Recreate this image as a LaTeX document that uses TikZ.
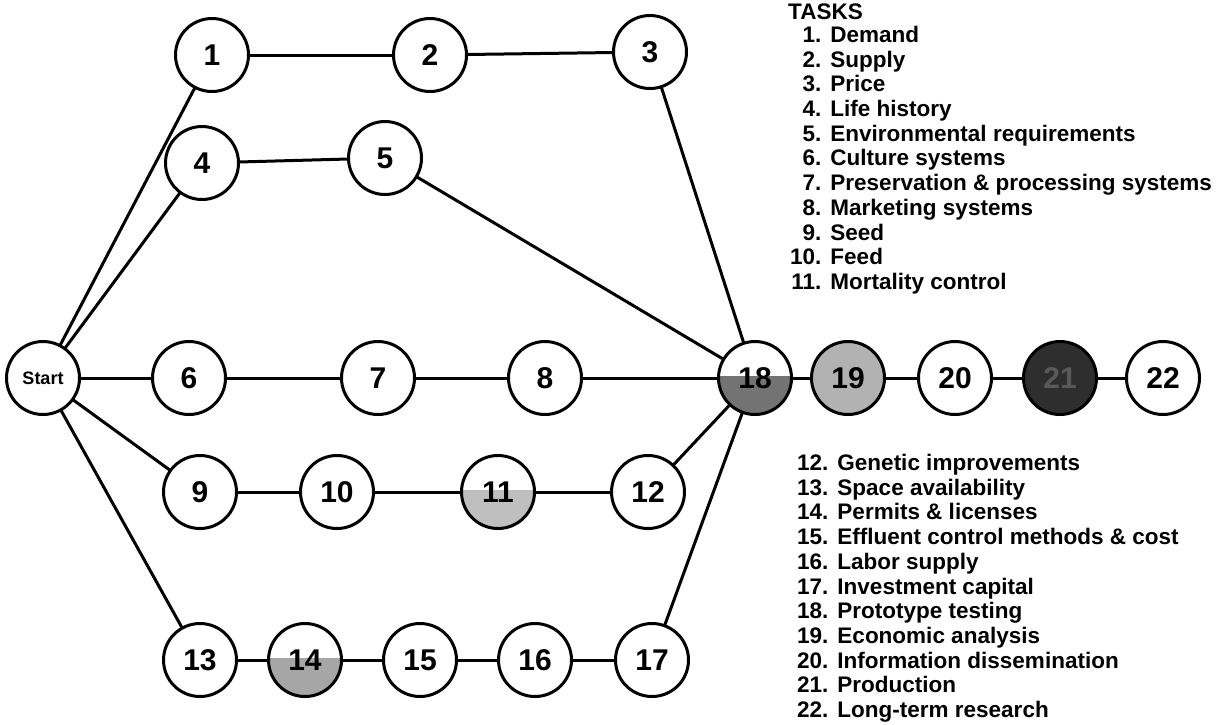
\documentclass[tikz,border=0pt]{standalone}
\usepackage{fontspec}
\setmainfont{Liberation Sans}
\usetikzlibrary{calc}
\begin{document}
\begin{tikzpicture}[x=1pt,y=-1pt,
  task/.style={circle, draw, line width=3pt, minimum size=73pt, inner sep=0pt, outer sep=0pt,
    font=\fontsize{30}{30}\selectfont\bfseries, fill=white},
  halfshade/.style={path picture={\fill[#1] ([yshift=2pt]path picture bounding box.west) rectangle (path picture bounding box.south east);}},
  link/.style={line width=3pt},
  listfont/.style={font=\fontsize{22.5}{24.7}\selectfont\bfseries}
]
\useasboundingbox (0,0) rectangle (1218,724);

% nodes
\node[task, font=\fontsize{18}{18}\selectfont\bfseries] (start) at (43,378) {Start};
\node[task] (n1) at (212,55) {1};
\node[task] (n2) at (430,55) {2};
\node[task] (n3) at (650,52) {3};
\node[task] (n4) at (202,163) {4};
\node[task] (n5) at (385,158) {5};
\node[task] (n6) at (189,378) {6};
\node[task] (n7) at (378,378) {7};
\node[task] (n8) at (545,378) {8};
\node[task, halfshade=black!55] (n18) at (755,378) {18};
\node[task, fill=black!30] (n19) at (848,378) {19};
\node[task] (n20) at (955,378) {20};
\node[task, fill=black!82, text=black!65] (n21) at (1060,378) {21};
\node[task] (n22) at (1163,378) {22};
\node[task] (n9) at (200,492) {9};
\node[task] (n10) at (337,492) {10};
\node[task, halfshade=black!25] (n11) at (498,492) {11};
\node[task] (n12) at (648,492) {12};
\node[task] (n13) at (200,660) {13};
\node[task, halfshade=black!35] (n14) at (305,660) {14};
\node[task] (n15) at (420,660) {15};
\node[task] (n16) at (535,660) {16};
\node[task] (n17) at (652,660) {17};

% connectors
\draw[link] (start) -- (n1);
\draw[link] (start) -- (n4);
\draw[link] (start) -- (n6);
\draw[link] (start) -- (n9);
\draw[link] (start) -- (n13);
\draw[link] (n1) -- (n2);
\draw[link] (n2) -- (n3);
\draw[link] (n3) -- (n18);
\draw[link] (n4) -- (n5);
\draw[link] (n5) -- (n18);
\draw[link] (n6) -- (n7);
\draw[link] (n7) -- (n8);
\draw[link] (n8) -- (n18);
\draw[link] (n9) -- (n10);
\draw[link] (n10) -- (n11);
\draw[link] (n11) -- (n12);
\draw[link] (n12) -- (n18);
\draw[link] (n13) -- (n14);
\draw[link] (n14) -- (n15);
\draw[link] (n15) -- (n16);
\draw[link] (n16) -- (n17);
\draw[link] (n17) -- (n18);
\draw[link] (n18) -- (n19);
\draw[link] (n19) -- (n20);
\draw[link] (n20) -- (n21);
\draw[link] (n21) -- (n22);

% task lists
\node[listfont, anchor=north west, inner sep=0pt] (head) at (788,4) {TASKS};
\node[listfont, anchor=north west, inner sep=0pt] (listA) at (790,25) {%
\begin{tabular}{@{}r@{\hspace{9pt}}l@{}}
1. & Demand\\
2. & Supply\\
3. & Price\\
4. & Life history\\
5. & Environmental requirements\\
6. & Culture systems\\
7. & Preservation \& processing systems\\
8. & Marketing systems\\
9. & Seed\\
10. & Feed\\
11. & Mortality control
\end{tabular}};
\node[listfont, anchor=north west, inner sep=0pt] (listB) at (797,453) {%
\begin{tabular}{@{}r@{\hspace{9pt}}l@{}}
12. & Genetic improvements\\
13. & Space availability\\
14. & Permits \& licenses\\
15. & Effluent control methods \& cost\\
16. & Labor supply\\
17. & Investment capital\\
18. & Prototype testing\\
19. & Economic analysis\\
20. & Information dissemination\\
21. & Production\\
22. & Long-term research
\end{tabular}};
\end{tikzpicture}
\end{document}
